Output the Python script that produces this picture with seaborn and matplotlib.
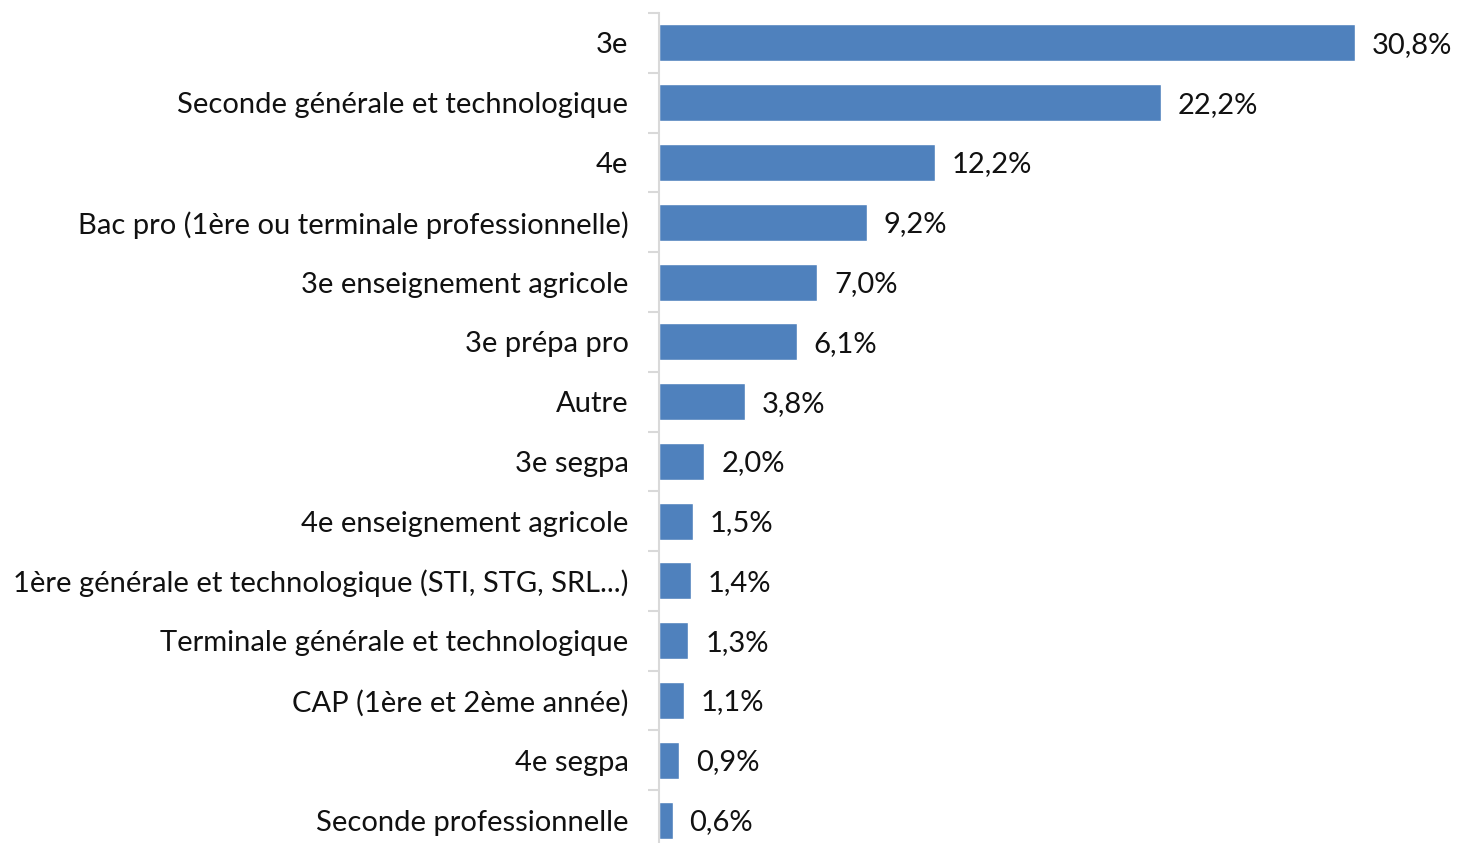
import matplotlib.pyplot as plt
import seaborn as sns
import pandas as pd
import numpy as np

# data
categories = ['3e', 'Seconde générale et technologique', '4e',
              'Bac pro (1ère ou terminale professionnelle)',
              '3e enseignement agricole', '3e prépa pro', 'Autre',
              '3e segpa', '4e enseignement agricole',
              '1ère générale et technologique (STI, STG, SRL...)',
              'Terminale générale et technologique',
              'CAP (1ère et 2ème année)', '4e segpa',
              'Seconde professionnelle']
values = [30.8, 22.2, 12.2, 9.2, 7.0, 6.1, 3.8, 2.0, 1.5, 1.4, 1.3, 1.1, 0.9, 0.6]

df = pd.DataFrame({'cat': categories, 'val': values})

sns.set_style('white')
plt.rcParams['font.family'] = ['Lato', 'DejaVu Sans']

W, H = 1462, 843
fig = plt.figure(figsize=(W / 100, H / 100), dpi=100)
# axis spans y 13..850 px, x from 659 px; 22.6 px per %
ax = fig.add_axes([659 / W, 1 - 850 / H, 791 / W, 837 / H])

sns.barplot(data=df, x='val', y='cat', orient='h', color='#4F81BD',
            saturation=1, width=0.62, ax=ax)

ax.set_xlim(0, 35)
ax.set_ylim(len(categories) - 0.5, -0.5)
ax.set_xlabel('')
ax.set_ylabel('')
ax.set_xticks([])

for s in ['top', 'right', 'bottom']:
    ax.spines[s].set_visible(False)
ax.spines['left'].set_color('#D9D9D9')
ax.spines['left'].set_linewidth(1.5)

ax.set_yticks(np.arange(-0.5, len(categories), 1.0), minor=True)
ax.tick_params(axis='y', which='minor', length=8, width=1.5,
               color='#D9D9D9', left=True)
ax.tick_params(axis='y', which='major', length=0, pad=22,
               labelsize=21, labelcolor='#111111')

for i, v in enumerate(values):
    ax.annotate(f'{v:.1f}%'.replace('.', ','), xy=(v, i),
                xytext=(17, -2), textcoords='offset pixels',
                va='center', ha='left', fontsize=21, color='#111111',
                clip_on=False)

fig.savefig('out.png', dpi=100)
